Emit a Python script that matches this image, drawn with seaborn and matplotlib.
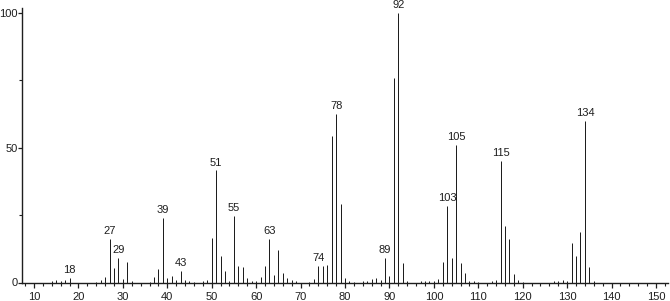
import matplotlib
matplotlib.use("Agg")
import matplotlib.pyplot as plt
from matplotlib.ticker import MultipleLocator, FixedLocator
import seaborn as sns
import pandas as pd

# m/z values and relative intensities
mz = [14, 15, 16, 17, 18, 24, 25, 26, 27, 28, 29, 30, 31, 32,
      36, 37, 38, 39, 40, 41, 42, 43, 44, 45, 46, 48, 49,
      50, 51, 52, 53, 54, 55, 56, 57, 58, 59, 60, 61, 62, 63, 64, 65, 66, 67, 68, 69,
      72, 73, 74, 75, 76, 77, 78, 79, 80, 81, 82, 84, 85, 86, 87, 88, 89, 90,
      91, 92, 93, 94, 97, 98, 99, 100, 101, 102, 103, 104, 105, 106, 107, 108, 109, 110,
      113, 114, 115, 116, 117, 118, 119, 120, 127, 128, 129, 130, 131, 132, 133, 134, 135, 136]
intensity = [0.4, 0.8, 0.6, 0.8, 1.6, 0.3, 0.8, 2.0, 16.3, 5.4, 9.1, 1.2, 7.6, 0.6,
             0.3, 2.0, 4.9, 24.0, 1.8, 2.4, 0.8, 4.2, 1.0, 0.4, 0.3, 0.4, 1.0,
             16.7, 41.6, 9.8, 4.2, 0.7, 24.7, 6.2, 5.6, 1.7, 0.7, 0.4, 2.0, 6.2, 16.3, 2.7, 12.0, 3.7, 1.7, 0.8, 0.5,
             0.3, 1.3, 6.2, 6.2, 6.4, 54.5, 62.6, 29.2, 1.5, 0.5, 0.3, 0.4, 0.7, 1.2, 1.8, 0.8, 9.0, 2.5,
             75.9, 100.0, 7.4, 0.5, 0.5, 0.6, 0.4, 0.4, 1.2, 7.7, 28.4, 9.1, 51.2, 7.1, 3.4, 0.5, 0.4, 0.3,
             0.4, 0.8, 45.1, 21.1, 16.3, 3.0, 1.0, 0.3, 0.4, 0.5, 0.8, 0.5, 14.5, 10.0, 18.7, 60.0, 5.9, 0.4]

# labelled peaks
labelled = [18, 27, 29, 39, 43, 51, 55, 63, 74, 78, 89, 92, 103, 105, 115, 134]

x_major = list(range(10, 151, 10))
y_major = [0, 50, 100]

df = pd.DataFrame({"mz": mz, "intensity": intensity})

sns.set_style("white")
plt.rcParams["font.family"] = ["Liberation Sans", "DejaVu Sans"]

ink = "#1e1e1e"
fig = plt.figure(figsize=(6.7, 3.01), dpi=100)
ax = fig.add_axes([22 / 670, (301 - 282.5) / 301, (668 - 22) / 670, 274.8 / 301])

sns.barplot(data=df, x="mz", y="intensity", native_scale=True, width=1e-4,
            color=ink, saturation=1, edgecolor=ink, linewidth=0.72, ax=ax)
for p in ax.patches:
    p.set_snap(True)

lookup = dict(zip(mz, intensity))
for m in labelled:
    ax.annotate(str(m), (m, lookup[m]), xytext=(0, 2.0), textcoords="offset points",
                ha="center", va="bottom", fontsize=8, color=ink)

ax.set_xlim(7.3, 152.7)
ax.set_ylim(0, 102)
ax.xaxis.set_major_locator(FixedLocator(x_major))
ax.xaxis.set_minor_locator(MultipleLocator(2))
ax.yaxis.set_major_locator(FixedLocator(y_major))
ax.yaxis.set_minor_locator(MultipleLocator(25))
ax.set_xlabel("")
ax.set_ylabel("")

for s in ["top", "right"]:
    ax.spines[s].set_visible(False)
for s in ["left", "bottom"]:
    ax.spines[s].set_color(ink)
    ax.spines[s].set_linewidth(1.0)

ax.tick_params(axis="both", which="major", direction="out", length=3.5, width=0.9,
               color=ink, labelcolor=ink, labelsize=8)
ax.tick_params(axis="both", which="minor", direction="out", length=2.2, width=0.8, color=ink)
ax.tick_params(axis="x", which="major", pad=3)
ax.tick_params(axis="y", which="major", length=2.8, pad=0.4)
ax.tick_params(axis="x", which="both", bottom=True)
ax.tick_params(axis="y", which="both", left=True)

fig.savefig("out.png", dpi=100)
